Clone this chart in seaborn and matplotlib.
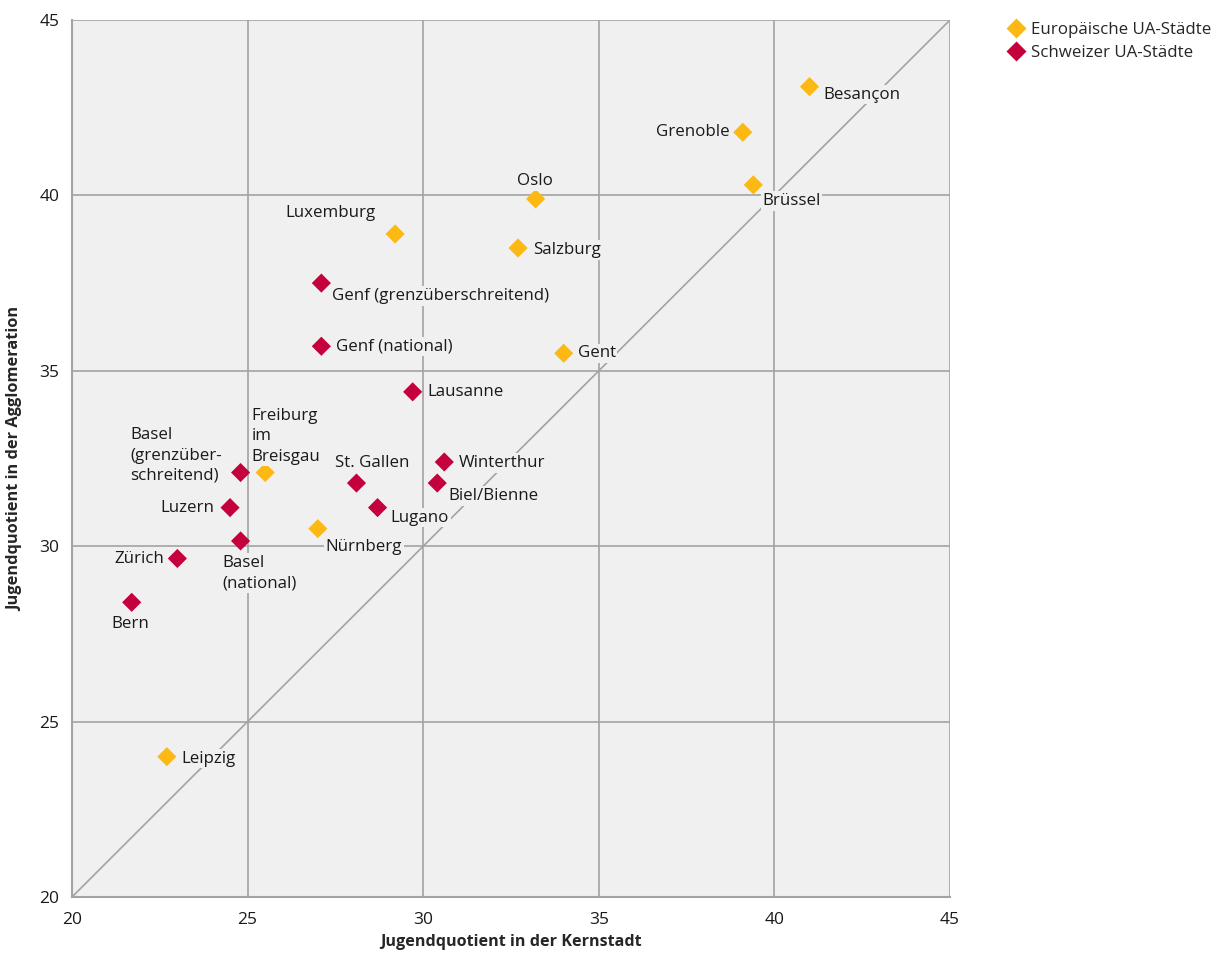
import matplotlib
matplotlib.use("Agg")
import matplotlib.pyplot as plt
import seaborn as sns
import pandas as pd

# values
cities = ["Besançon", "Grenoble", "Brüssel", "Oslo", "Luxemburg", "Salzburg", "Gent",
          "Freiburg\nim\nBreisgau", "Nürnberg", "Leipzig",
          "Genf (grenzüberschreitend)", "Genf (national)", "Lausanne", "Winterthur",
          "St. Gallen", "Biel/Bienne", "Lugano", "Basel\n(grenzüber-\nschreitend)",
          "Luzern", "Basel\n(national)", "Zürich", "Bern"]
kernstadt = [41.0, 39.1, 39.4, 33.2, 29.2, 32.7, 34.0, 25.5, 27.0, 22.7,
             27.1, 27.1, 29.7, 30.6, 28.1, 30.4, 28.7, 24.8, 24.5, 24.8, 23.0, 21.7]
agglo = [43.1, 41.8, 40.3, 39.9, 38.9, 38.5, 35.5, 32.1, 30.5, 24.0,
         37.5, 35.7, 34.4, 32.4, 31.8, 31.8, 31.1, 32.1, 31.1, 30.15, 29.65, 28.4]
group = ["Europäische UA-Städte"] * 10 + ["Schweizer UA-Städte"] * 12

# label placement: offset in pixels, ha, va
label_pos = {
    "Besançon": (14, -8, "left", "center"),
    "Grenoble": (-13, 0, "right", "center"),
    "Brüssel": (9, -16, "left", "center"),
    "Oslo": (-1, 18, "center", "center"),
    "Luxemburg": (-19, 21, "right", "center"),
    "Salzburg": (15, -2, "left", "center"),
    "Gent": (14, 0, "left", "center"),
    "Freiburg\nim\nBreisgau": (-14, 8, "left", "bottom"),
    "Nürnberg": (8, -18, "left", "center"),
    "Leipzig": (15, -2, "left", "center"),
    "Genf (grenzüberschreitend)": (11, -13, "left", "center"),
    "Genf (national)": (15, 0, "left", "center"),
    "Lausanne": (15, 0, "left", "center"),
    "Winterthur": (14, -1, "left", "center"),
    "St. Gallen": (16, 20, "center", "center"),
    "Biel/Bienne": (11, -13, "left", "center"),
    "Lugano": (13, -10, "left", "center"),
    "Basel\n(grenzüber-\nschreitend)": (-19, 17, "right", "center"),
    "Luzern": (-16, 0, "right", "center"),
    "Basel\n(national)": (-18, -14, "left", "top"),
    "Zürich": (-13, -1, "right", "center"),
    "Bern": (-1, -22, "center", "center"),
}

df = pd.DataFrame({"city": cities, "kern": kernstadt, "agglo": agglo, "group": group})

bg = "#eff0ef"
grid = "#a3a3a3"
sns.set_theme(style="whitegrid")
plt.rcParams["font.family"] = ["Open Sans", "DejaVu Sans"]

fig = plt.figure(figsize=(12.18, 9.57), dpi=100)
ax = fig.add_axes([72 / 1218, 1 - 897 / 957, (950 - 72) / 1218, (897 - 20) / 957])
ax.set_facecolor(bg)

ax.plot([20, 45], [20, 45], color=grid, lw=1.2, zorder=1)
sns.scatterplot(data=df, x="kern", y="agglo", hue="group", marker="D", s=95,
                palette=["#fdb913", "#c4003d"], edgecolor="none", ax=ax, zorder=3)

for _, r in df.iterrows():
    dx, dy, ha, va = label_pos[r.city]
    ax.annotate(r.city, (r.kern, r.agglo), xytext=(dx, dy), textcoords="offset pixels",
                ha=ha, va=va, multialignment="left", fontsize=12.2, color="#1a1a1a",
                linespacing=1.35, zorder=4,
                bbox=dict(boxstyle="square,pad=0.1", fc=bg, ec="none"))

ax.set_xlim(20, 45)
ax.set_ylim(20, 45)
ax.set_xticks(range(20, 46, 5))
ax.set_yticks(range(20, 46, 5))
ax.grid(True, color=grid, lw=1.2)
for s in ["top", "right"]:
    ax.spines[s].set_visible(False)
for s in ["left", "bottom"]:
    ax.spines[s].set_color(grid)
    ax.spines[s].set_linewidth(1.5)
ax.tick_params(axis="both", length=5, color=grid, width=1.2, labelsize=12.5,
               labelcolor="#1a1a1a")
ax.tick_params(axis="x", length=4, pad=7)
ax.tick_params(axis="y", pad=4)
ax.set_xlabel("Jugendquotient in der Kernstadt", fontsize=11.6, fontweight="bold", labelpad=4)
ax.set_ylabel("Jugendquotient in der Agglomeration", fontsize=11.8, fontweight="bold", labelpad=12)

leg = ax.legend(loc="upper left", bbox_to_anchor=(1.058, 1.006), frameon=False,
                fontsize=12.2, handletextpad=0.35, borderaxespad=0, labelspacing=0.45,
                markerscale=1.0, handlelength=1.0)

fig.savefig("out.png", dpi=100, facecolor="white")
